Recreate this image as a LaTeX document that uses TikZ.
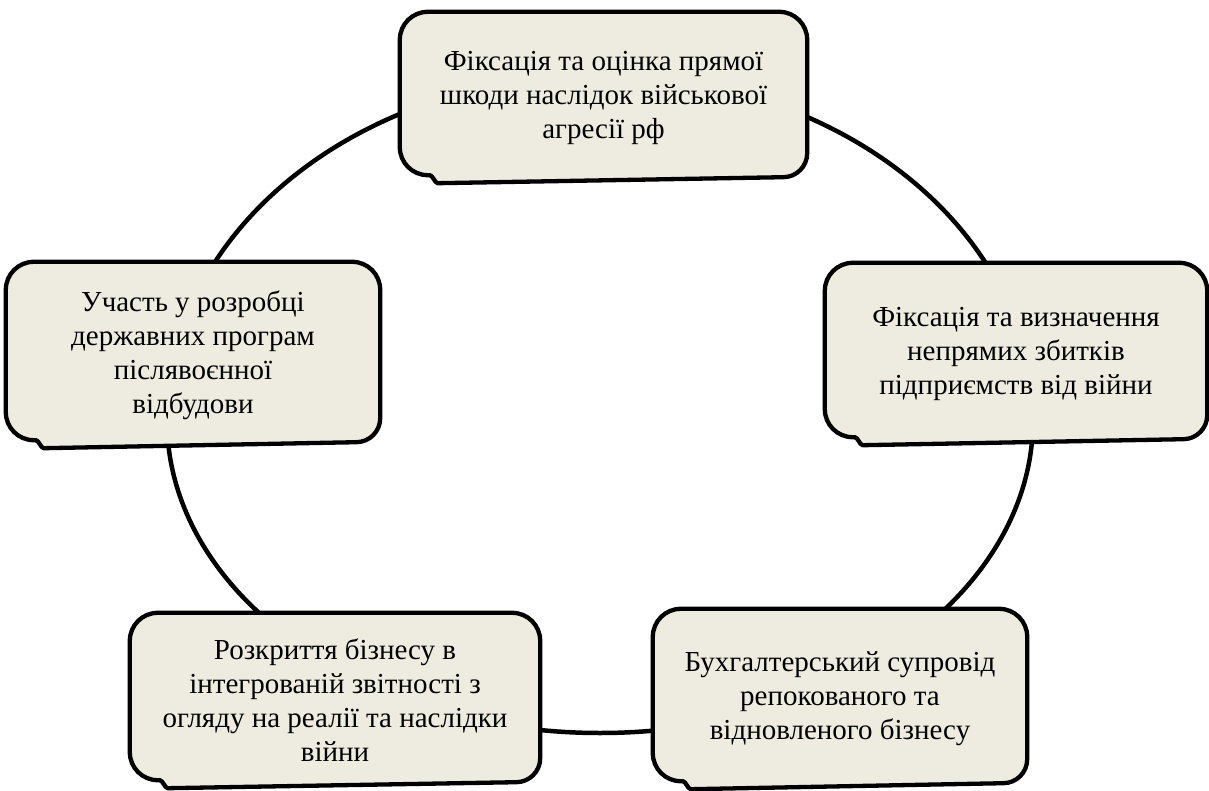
\documentclass[tikz,border=0pt]{standalone}
\usepackage{fontspec}
\setmainfont{Liberation Serif}
\usepackage{tikz}
\usetikzlibrary{backgrounds}
\definecolor{boxfill}{HTML}{EEECE1}

\tikzset{
  boxline/.style={draw=black, line width=4.3pt, fill=boxfill, line join=round},
  boxtext/.style={inner sep=0pt, align=center, font=\fontsize{29}{34}\selectfont},
  ring/.style={draw=black, line width=4.5pt}
}

\begin{document}
\begin{tikzpicture}[x=1pt, y=-1pt]
\useasboundingbox (0,0) rectangle (1209,791);
\coordinate (centre) at (600,420);

\node[boxtext, minimum width=407pt, minimum height=171pt] (direct) at (603.5,97.5)
  {Фіксація та оцінка прямої\\шкоди наслідок військової\\агресії рф};
\node[boxtext, minimum width=382pt, minimum height=182pt] (indirect) at (1016,354)
  {Фіксація та визначення\\непрямих збитків\\підприємств від війни};
\node[boxtext, minimum width=374pt, minimum height=180pt] (support) at (840,699)
  {Бухгалтерський супровід\\репокованого та\\відновленого бізнесу};
\node[boxtext, minimum width=410pt, minimum height=175pt] (disclosure) at (335,700.5)
  {Розкриття бізнесу в\\інтегрованій звітності з\\огляду на реалії та наслідки\\війни};
\node[boxtext, minimum width=374pt, minimum height=186pt] (recovery) at (193,355)
  {Участь у розробці\\державних програм\\післявоєнної\\відбудови};

\begin{scope}[on background layer]
% cycle behind the boxes
\draw[ring] (centre) ++(433pt,0pt)
  arc[start angle=0, end angle=180, x radius=433pt, y radius=345pt]
  arc[start angle=180, end angle=360, x radius=433pt, y radius=313pt];
\foreach \n in {direct,indirect,support,disclosure,recovery}
  \draw[boxline] ([yshift=-28pt]\n.north west)
    arc[start angle=180, end angle=90, radius=28pt]
    -- ([xshift=-28pt]\n.north east)
    arc[start angle=90, end angle=0, radius=28pt]
    -- ([yshift=30pt]\n.south east)
    arc[start angle=0, end angle=-90, radius=24pt]
    -- ([xshift=38pt]\n.south west)
    .. controls ([xshift=35pt]\n.south west) and ([xshift=33pt,yshift=8pt]\n.south west)
    .. ([xshift=30pt,yshift=8pt]\n.south west)
    -- ([xshift=28pt,yshift=8pt]\n.south west)
    arc[start angle=270, end angle=180, radius=28pt]
    -- cycle;
\end{scope}
\end{tikzpicture}
\end{document}
